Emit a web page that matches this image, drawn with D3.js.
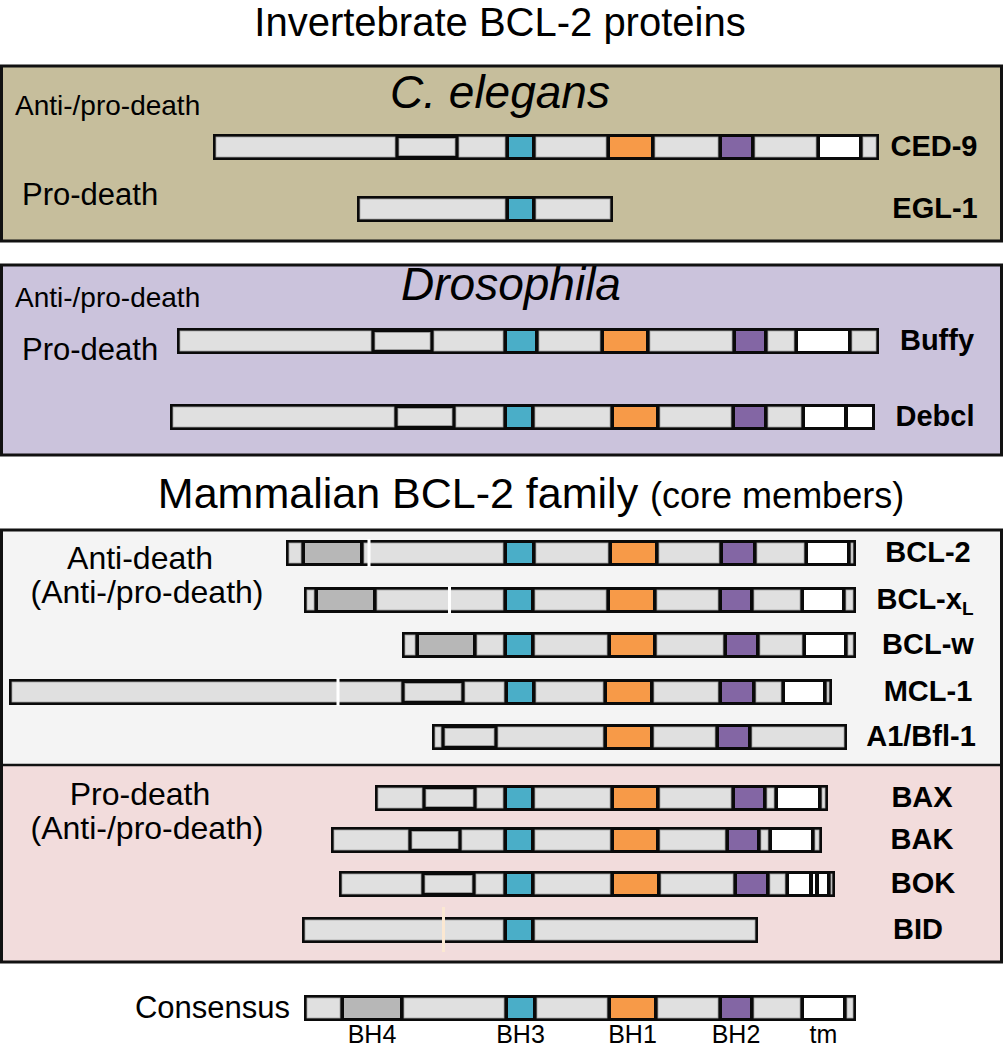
<!DOCTYPE html>
<html>
<head>
<meta charset="utf-8">
<script src="https://cdn.jsdelivr.net/npm/d3@7"></script>
<style>
  body { margin: 0; background: #fff; }
  svg text { font-family: "Liberation Sans", Arial, sans-serif; }
</style>
</head>
<body>
<div id="chart"></div>
<script>
// domain boundaries along the aligned sequence axis, and what each piece is
// L = linker, X = boxed region, BH1-4 = homology domains, TM = transmembrane
const ced9Bounds = [214, 397, 457, 507, 534, 608, 653, 720, 753, 818, 861, 878];
const ced9Types = ["L", "X", "L", "BH3", "L", "BH1", "L", "BH2", "L", "TM", "L"];
const egl1Bounds = [358, 507, 534, 612];
const egl1Types = ["L", "BH3", "L"];
const buffyBounds = [178, 373, 432, 505, 537, 602, 648, 734, 766, 796, 850, 878];
const buffyTypes = ["L", "X", "L", "BH3", "L", "BH1", "L", "BH2", "L", "TM", "L"];
const debclBounds = [171, 396, 454, 505, 533, 612, 658, 733, 766, 803, 846, 874];
const debclTypes = ["L", "X", "L", "BH3", "L", "BH1", "L", "BH2", "L", "TM", "TM"];

const bcl2Bounds = [287, 303, 362, 505, 534, 610, 657, 721, 755, 806, 849, 855];
const bcl2Types = ["L", "BH4", "L", "BH3", "L", "BH1", "L", "BH2", "L", "TM", "L"];
const bclxlBounds = [305, 316, 375, 505, 533, 608, 655, 720, 752, 802, 844, 855];
const bclxlTypes = ["L", "BH4", "L", "BH3", "L", "BH1", "L", "BH2", "L", "TM", "L"];
const bclwBounds = [403, 417, 475, 505, 533, 609, 655, 725, 758, 804, 846, 855];
const bclwTypes = ["L", "BH4", "L", "BH3", "L", "BH1", "L", "BH2", "L", "TM", "L"];
const mcl1Bounds = [10, 403, 463, 506, 534, 605, 652, 720, 754, 783, 825, 831];
const mcl1Types = ["L", "X", "L", "BH3", "L", "BH1", "L", "BH2", "L", "TM", "L"];
const a1Bounds = [433, 443, 496, 605, 652, 717, 750, 846];
const a1Types = ["L", "X", "L", "BH1", "L", "BH2", "L"];

const baxBounds = [376, 424, 475, 505, 533, 612, 658, 733, 765, 776, 820, 827];
const baxTypes = ["L", "X", "L", "BH3", "L", "BH1", "L", "BH2", "L", "TM", "L"];
const bakBounds = [332, 410, 460, 505, 533, 612, 658, 727, 759, 770, 813, 821];
const bakTypes = ["L", "X", "L", "BH3", "L", "BH1", "L", "BH2", "L", "TM", "L"];
const bokBounds = [340, 423, 474, 505, 533, 612, 659, 735, 768, 787, 811, 817, 829, 834];
const bokTypes = ["L", "X", "L", "BH3", "L", "BH1", "L", "BH2", "L", "TM", "TM", "TM", "L"];
const bidBounds = [303, 505, 533, 757];
const bidTypes = ["L", "BH3", "L"];

const consensusBounds = [305, 342, 402, 506, 535, 609, 656, 720, 752, 802, 845, 855];
const consensusTypes = ["L", "BH4", "L", "BH3", "L", "BH1", "L", "BH2", "L", "TM", "L"];
const consensusLabels = ["BH4", "BH3", "BH1", "BH2", "tm"];

// gaps (loop regions cut out of the drawing)
const breakPositions = { "BCL-2": [369], "BCL-xL": [449.5], "MCL-1": [338], "BID": [443.5] };

const groupLabels = ["Anti-/pro-death", "Pro-death", "Anti-/pro-death", "Pro-death"];

const width = 1003, height = 1050, barH = 26;

const fillOf = {
  L: "#e0e0e0", X: "#e0e0e0", BH4: "#b7b7b7", BH3: "#4aaec8",
  BH1: "#f79a48", BH2: "#8366a4", TM: "#ffffff"
};

const x = d3.scaleLinear().domain([0, width]).range([0, width]);

const rows = [
  { name: "CED-9", bounds: ced9Bounds, types: ced9Types, y: 134, lx: 934 },
  { name: "EGL-1", bounds: egl1Bounds, types: egl1Types, y: 196, lx: 935 },
  { name: "Buffy", bounds: buffyBounds, types: buffyTypes, y: 328, lx: 937 },
  { name: "Debcl", bounds: debclBounds, types: debclTypes, y: 404, lx: 935 },
  { name: "BCL-2", bounds: bcl2Bounds, types: bcl2Types, y: 540, lx: 928 },
  { name: "BCL-xL", bounds: bclxlBounds, types: bclxlTypes, y: 587, lx: 925 },
  { name: "BCL-w", bounds: bclwBounds, types: bclwTypes, y: 632, lx: 928 },
  { name: "MCL-1", bounds: mcl1Bounds, types: mcl1Types, y: 679, lx: 928 },
  { name: "A1/Bfl-1", bounds: a1Bounds, types: a1Types, y: 724, lx: 921 },
  { name: "BAX", bounds: baxBounds, types: baxTypes, y: 785, lx: 922 },
  { name: "BAK", bounds: bakBounds, types: bakTypes, y: 827, lx: 922 },
  { name: "BOK", bounds: bokBounds, types: bokTypes, y: 871, lx: 923 },
  { name: "BID", bounds: bidBounds, types: bidTypes, y: 917, lx: 918 },
  { name: "Consensus", bounds: consensusBounds, types: consensusTypes, y: 995, lx: null }
];

const svg = d3.select("#chart").append("svg")
  .attr("width", width)
  .attr("height", height);

// background panels
svg.append("rect").attr("x", 1.5).attr("y", 66).attr("width", width - 3).attr("height", 175)
  .attr("fill", "#c6be9c").attr("stroke", "#111").attr("stroke-width", 3);
svg.append("rect").attr("x", 1.5).attr("y", 265).attr("width", width - 3).attr("height", 190)
  .attr("fill", "#cbc3dc").attr("stroke", "#111").attr("stroke-width", 3);
svg.append("rect").attr("x", 1.5).attr("y", 530).attr("width", width - 3).attr("height", 235)
  .attr("fill", "#f4f4f4");
svg.append("rect").attr("x", 1.5).attr("y", 765).attr("width", width - 3).attr("height", 197)
  .attr("fill", "#f2dcdc");
svg.append("rect").attr("x", 1.5).attr("y", 530).attr("width", width - 3).attr("height", 432)
  .attr("fill", "none").attr("stroke", "#111").attr("stroke-width", 3);
svg.append("line").attr("x1", 1.5).attr("x2", width - 1.5).attr("y1", 765).attr("y2", 765)
  .attr("stroke", "#111").attr("stroke-width", 2.5);

// titles
svg.append("text").attr("x", 500).attr("y", 36).attr("text-anchor", "middle")
  .attr("font-size", 40).text("Invertebrate BCL-2 proteins");
const mt = svg.append("text").attr("x", 531).attr("y", 508).attr("text-anchor", "middle");
mt.append("tspan").attr("font-size", 43).text("Mammalian BCL-2 family ");
mt.append("tspan").attr("font-size", 36).text("(core members)");

svg.append("text").attr("x", 500).attr("y", 108).attr("text-anchor", "middle")
  .attr("font-size", 46).attr("font-style", "italic").text("C. elegans");
svg.append("text").attr("x", 511).attr("y", 300).attr("text-anchor", "middle")
  .attr("font-size", 46).attr("font-style", "italic").text("Drosophila");

// group labels
const gl = [[15, 115, 28], [22, 205, 31], [15, 307, 28], [22, 360, 31]];
gl.forEach(([gx, gy, fs], i) => {
  svg.append("text").attr("x", gx).attr("y", gy).attr("font-size", fs).text(groupLabels[i]);
});
[["Anti-death", 140, 569], ["(Anti-/pro-death)", 147, 603],
 ["Pro-death", 140, 805], ["(Anti-/pro-death)", 147, 839]].forEach(([t, tx, ty]) => {
  svg.append("text").attr("x", tx).attr("y", ty).attr("text-anchor", "middle")
    .attr("font-size", 32).text(t);
});

// protein bars
rows.forEach((r) => {
  const g = svg.append("g");
  const x0 = x(r.bounds[0]), x1 = x(r.bounds[r.bounds.length - 1]);
  g.append("rect").attr("x", x0 - 1).attr("y", r.y).attr("width", x1 - x0 + 2)
    .attr("height", barH).attr("fill", "#0a0a0a");

  const segs = r.types.map((t, i) => ({ t, a: r.bounds[i], b: r.bounds[i + 1] }));
  g.selectAll("rect.seg").data(segs).join("rect")
    .attr("class", "seg")
    .attr("x", (d) => x(d.a) + 2)
    .attr("width", (d) => Math.max(1, x(d.b) - x(d.a) - 4))
    .attr("y", (d) => r.y + (d.t === "X" ? 4.5 : 3))
    .attr("height", (d) => barH - (d.t === "X" ? 9 : 6))
    .attr("fill", (d) => fillOf[d.t])
    .attr("stroke", (d) => (d.t === "L" || d.t === "X" ? "#a8a8a8" : "none"))
    .attr("stroke-width", 0.8);

  (breakPositions[r.name] || []).forEach((p) => {
    const cream = r.name === "BID";
    g.append("rect")
      .attr("x", x(p) - 1.5).attr("width", 3)
      .attr("y", cream ? r.y - 10 : r.y - 1)
      .attr("height", cream ? barH + 19 : barH + 2)
      .attr("fill", cream ? "#fbe8d2" : "#ffffff");
  });

  if (r.lx != null) {
    const t = g.append("text").attr("x", r.lx).attr("y", r.y + 22)
      .attr("text-anchor", "middle").attr("font-size", 29).attr("font-weight", "bold");
    if (r.name === "BCL-xL") {
      t.append("tspan").text("BCL-x");
      t.append("tspan").attr("font-size", 19).attr("dy", 6).text("L");
    } else {
      t.text(r.name);
    }
  }
});

// consensus labels
const cons = rows[rows.length - 1];
svg.append("text").attr("x", 290).attr("y", cons.y + 23).attr("text-anchor", "end")
  .attr("font-size", 31).text("Consensus");
const labelled = consensusTypes
  .map((t, i) => ({ t, mid: (consensusBounds[i] + consensusBounds[i + 1]) / 2 }))
  .filter((d) => d.t !== "L");
svg.selectAll("text.dom").data(labelled).join("text")
  .attr("class", "dom")
  .attr("x", (d) => x(d.mid))
  .attr("y", 1043)
  .attr("text-anchor", "middle")
  .attr("font-size", 25)
  .text((d, i) => consensusLabels[i]);
</script>
</body>
</html>
